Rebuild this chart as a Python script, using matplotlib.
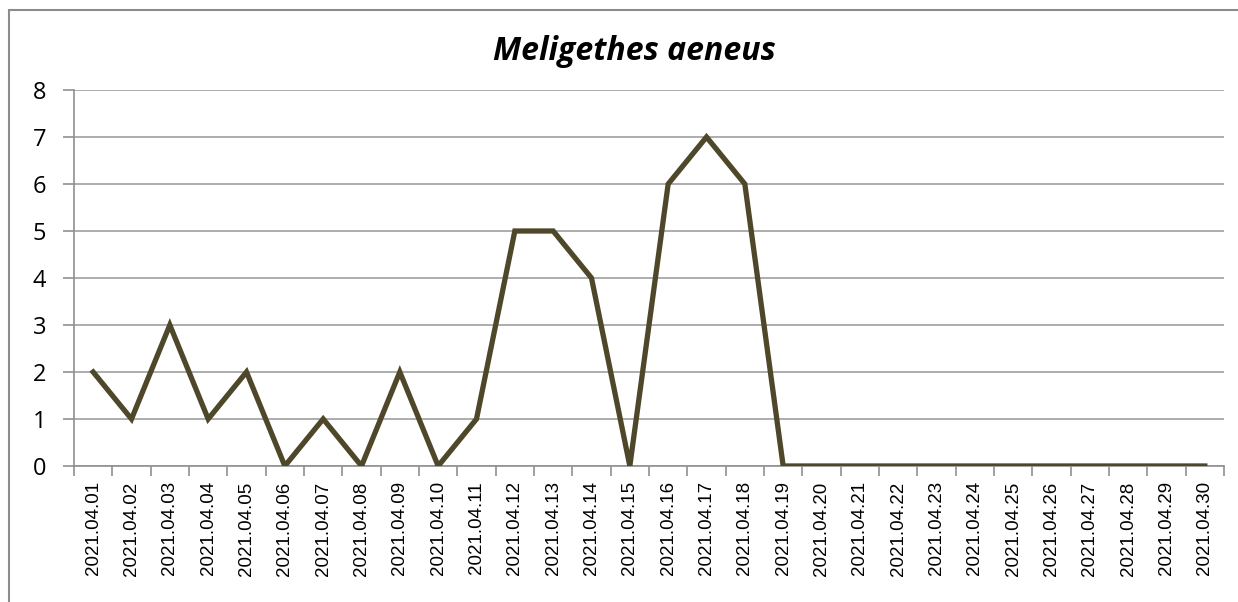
import matplotlib

matplotlib.use("Agg")
import matplotlib.pyplot as plt
from matplotlib.patches import Rectangle
from matplotlib.ticker import FixedLocator, NullFormatter

dates = [f"2021.04.{d:02d}" for d in range(1, 31)]
counts = [2, 1, 3, 1, 2, 0, 1, 0, 2, 0, 1, 5, 5, 4, 0, 6, 7, 6,
          0, 0, 0, 0, 0, 0, 0, 0, 0, 0, 0, 0]
y_ticks = list(range(0, 9))

W, H = 1238, 602
fig = plt.figure(figsize=(W / 100, H / 100), dpi=100)
ax = fig.add_axes([74 / W, 1 - 466 / H, (1224 - 74) / W, (466 - 90) / H])

# outer chart frame (runs off the right and bottom edges)
fig.patches.append(Rectangle((9 / W, -0.1), 1.2, 1.1 - 10 / H,
                             transform=fig.transFigure, fill=False,
                             edgecolor="#8c8c8c", linewidth=1.5))

x = list(range(len(dates)))
ax.plot(x, counts, color="#4e4729", linewidth=3.8, solid_joinstyle="miter",
        zorder=3)

ax.set_xlim(-0.5, len(dates) - 0.5)
ax.set_ylim(0, 8)
ax.set_yticks(y_ticks)
ax.yaxis.grid(True, color="#a0a0a0", linewidth=1.2)
ax.set_axisbelow(True)

ax.set_xticks(x)
ax.set_xticklabels(dates, rotation=90, fontsize=13.5, family="Liberation Sans")
ax.tick_params(axis="x", which="major", length=0, pad=11)
ax.xaxis.set_minor_locator(FixedLocator([i - 0.5 for i in range(len(dates) + 1)]))
ax.xaxis.set_minor_formatter(NullFormatter())
ax.tick_params(axis="x", which="minor", length=7, width=1.2, color="#909090")
ax.tick_params(axis="y", length=8, width=1.2, color="#909090", labelsize=17,
               pad=12)
for lbl in ax.get_yticklabels():
    lbl.set_family("Open Sans")

for side in ("top", "right"):
    ax.spines[side].set_visible(False)
for side in ("left", "bottom"):
    ax.spines[side].set_color("#909090")
    ax.spines[side].set_linewidth(1.2)

fig.text(634 / W, 1 - 52 / H, "Meligethes aeneus", ha="center", va="center",
         fontsize=23, fontweight="bold", fontstyle="italic", family="Open Sans")

fig.savefig("out.png", dpi=100)
